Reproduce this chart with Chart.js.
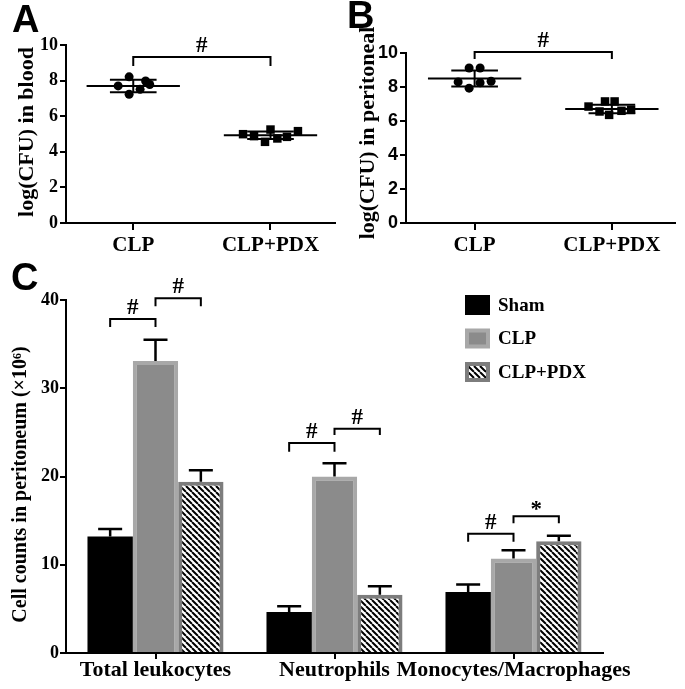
<!DOCTYPE html>
<html>
<head>
<meta charset="utf-8">
<script src="https://cdn.jsdelivr.net/npm/chart.js@4.4.1/dist/chart.umd.min.js"></script>
<style>
  body { margin: 0; background: #fff; }
  #wrap { position: relative; width: 685px; height: 689px; overflow: hidden; }
  #wrap canvas { position: absolute; left: 0; top: 0; }
  .tag { position: absolute; font: bold 38px "Liberation Sans", Arial, sans-serif; line-height: 1; color: #000; }
</style>
</head>
<body>
<div id="wrap">
  <canvas id="chartA" width="685" height="689"></canvas>
  <canvas id="chartB" width="685" height="689"></canvas>
  <canvas id="chartC" width="685" height="689"></canvas>
  <div class="tag" style="left:12px;top:0px">A</div>
  <div class="tag" style="left:347px;top:-4px">B</div>
  <div class="tag" style="left:11px;top:258px">C</div>
</div>
<script>
const groupLabels = ['CLP', 'CLP+PDX'];

// A - log(CFU) in blood (x = jitter around the group)
const bloodClpX = [-0.11, -0.03, -0.03, 0.05, 0.09, 0.12];
const bloodClpY = [7.70, 8.21, 7.23, 7.51, 7.98, 7.78];
const bloodPdxX = [-0.2, -0.12, -0.04, 0, 0.05, 0.12, 0.2];
const bloodPdxY = [4.99, 4.88, 4.56, 5.25, 4.75, 4.84, 5.16];
const bloodMean = [7.70, 4.93];
const bloodSD = [0.35, 0.21];
const bloodSig = [{ from: 1, to: 2, y: 9.33, end: 8.82, text: '#' }];

// B - log(CFU) in peritoneal
const peritClpX = [-0.12, -0.04, -0.04, 0.04, 0.04, 0.12];
const peritClpY = [8.30, 9.12, 7.93, 9.12, 8.25, 8.34];
const peritPdxX = [-0.17, -0.05, 0.02, -0.09, -0.02, 0.07, 0.14];
const peritPdxY = [6.85, 7.15, 7.15, 6.56, 6.36, 6.60, 6.66];
const peritMean = [8.50, 6.70];
const peritSD = [0.47, 0.25];
const peritSig = [{ from: 1, to: 2, y: 10.06, end: 9.65, text: '#' }];

// C - cell counts in peritoneum (x10^6)
const cellTypes = ['Total leukocytes', 'Neutrophils', 'Monocytes/Macrophages'];
const groupNames = ['Sham', 'CLP', 'CLP+PDX'];
const shamCounts = [13.2, 4.65, 6.9];
const shamErr = [0.85, 0.65, 0.85];
const clpCounts = [33.1, 20.0, 10.7];
const clpErr = [2.4, 1.5, 0.95];
const pdxCounts = [19.4, 6.6, 12.65];
const pdxErr = [1.3, 0.95, 0.65];
const cellSig = [
  { cat: 0, from: 0, to: 1, y: 37.85, end: 36.95, text: '#' },
  { cat: 0, from: 1, to: 2, y: 40.2, end: 39.3, text: '#' },
  { cat: 1, from: 0, to: 1, y: 23.8, end: 22.8, text: '#' },
  { cat: 1, from: 1, to: 2, y: 25.4, end: 24.7, text: '#' },
  { cat: 2, from: 0, to: 1, y: 13.5, end: 12.6, text: '#' },
  { cat: 2, from: 1, to: 2, y: 15.5, end: 14.7, text: '*' }
];

const SERIF = '"Liberation Serif", "Times New Roman", serif';
const SANS = '"Liberation Sans", Arial, sans-serif';
const MEAN_HALF = 0.34;
const SD_HALF = 0.17;

// brackets with # / * above them
function sigPlugin(items) {
  return {
    id: 'sigBars',
    afterDatasetsDraw(chart) {
      const ctx = chart.ctx, y = chart.scales.y;
      ctx.save();
      ctx.strokeStyle = '#000';
      ctx.fillStyle = '#000';
      ctx.lineWidth = 2;
      ctx.font = 'bold 23px ' + SERIF;
      ctx.textAlign = 'center';
      ctx.textBaseline = 'alphabetic';
      items.forEach(it => {
        let x1, x2;
        if (it.cat != null) {
          x1 = chart.getDatasetMeta(it.from).data[it.cat].x;
          x2 = chart.getDatasetMeta(it.to).data[it.cat].x;
        } else {
          x1 = chart.scales.x.getPixelForValue(it.from);
          x2 = chart.scales.x.getPixelForValue(it.to);
        }
        const yt = y.getPixelForValue(it.y), ye = y.getPixelForValue(it.end);
        ctx.beginPath();
        ctx.moveTo(x1, ye);
        ctx.lineTo(x1, yt);
        ctx.lineTo(x2, yt);
        ctx.lineTo(x2, ye);
        ctx.stroke();
        ctx.fillText(it.text, (x1 + x2) / 2, yt - (it.text === '*' ? 0 : 5));
      });
      ctx.restore();
    }
  };
}

function sideTitle(text, x, shift, size) {
  return {
    id: 'sideTitle',
    afterDraw(chart) {
      const a = chart.chartArea, ctx = chart.ctx;
      ctx.save();
      ctx.translate(x, (a.top + a.bottom) / 2 + shift);
      ctx.rotate(-Math.PI / 2);
      ctx.font = 'bold ' + size + 'px ' + SERIF;
      ctx.fillStyle = '#000';
      ctx.textAlign = 'center';
      ctx.textBaseline = 'middle';
      ctx.fillText(text, 0, 0);
      ctx.restore();
    }
  };
}

function seg(x1, x2, y1, y2) {
  return {
    data: [{ x: x1, y: y1 }, { x: x2, y: y2 }],
    showLine: true,
    pointRadius: 0,
    borderColor: '#000',
    borderWidth: 2
  };
}

function scatterPanel(id, p) {
  const datasets = [];
  [[p.clpX, p.clpY, 'circle', 4.5], [p.pdxX, p.pdxY, 'rect', 6]].forEach((g, gi) => {
    const cx = gi + 1, m = p.mean[gi], s = p.sd[gi];
    datasets.push(seg(cx - MEAN_HALF, cx + MEAN_HALF, m, m));
    datasets.push(seg(cx - SD_HALF, cx + SD_HALF, m + s, m + s));
    datasets.push(seg(cx - SD_HALF, cx + SD_HALF, m - s, m - s));
    datasets.push(seg(cx, cx, m - s, m + s));
    datasets.push({
      data: g[0].map((dx, i) => ({ x: cx + dx, y: g[1][i] })),
      pointStyle: g[2],
      pointRadius: g[3],
      backgroundColor: '#000',
      borderColor: '#000',
      borderWidth: 0
    });
  });

  return new Chart(document.getElementById(id), {
    type: 'scatter',
    data: { datasets },
    options: {
      responsive: false,
      animation: false,
      layout: { padding: p.pad },
      plugins: { legend: { display: false }, tooltip: { enabled: false } },
      scales: {
        x: {
          type: 'linear',
          min: p.xMin,
          max: p.xMax,
          afterBuildTicks: ax => { ax.ticks = [{ value: 1 }, { value: 2 }]; },
          afterFit: ax => { ax.height = 36; },
          ticks: {
            callback: (v, i) => groupLabels[i],
            color: '#000',
            padding: 3,
            maxRotation: 0,
            minRotation: 0,
            font: { family: SERIF, size: 21, weight: 'bold' }
          },
          grid: { drawOnChartArea: false, tickLength: 7, color: '#000', lineWidth: 2 },
          border: { color: '#000', width: 2 }
        },
        y: {
          min: 0,
          max: 10,
          afterFit: ax => { ax.width = 66; },
          ticks: {
            stepSize: 2,
            color: '#000',
            padding: 2,
            font: { family: p.tickFamily, size: 18, weight: 'bold' }
          },
          grid: { drawOnChartArea: false, tickLength: 6, color: '#000', lineWidth: 2 },
          border: { color: '#000', width: 2 }
        }
      }
    },
    plugins: [sigPlugin(p.sig), sideTitle(p.title, p.titleX, p.titleShift, 22)]
  });
}

scatterPanel('chartA', {
  clpX: bloodClpX, clpY: bloodClpY, pdxX: bloodPdxX, pdxY: bloodPdxY,
  mean: bloodMean, sd: bloodSD, sig: bloodSig,
  xMin: 0.51, xMax: 2.47,
  pad: { left: 0, top: 45, right: 350, bottom: 430 },
  tickFamily: SERIF,
  title: 'log(CFU) in blood', titleX: 27, titleShift: -2
});

scatterPanel('chartB', {
  clpX: peritClpX, clpY: peritClpY, pdxX: peritPdxX, pdxY: peritPdxY,
  mean: peritMean, sd: peritSD, sig: peritSig,
  xMin: 0.5, xMax: 2.46,
  pad: { left: 340, top: 53, right: 10, bottom: 430 },
  tickFamily: SANS,
  title: 'log(CFU) in peritoneal', titleX: 368, titleShift: -5
});

// ---- panel C ----
function hatch() {
  const s = 6;
  const c = document.createElement('canvas');
  c.width = s; c.height = s;
  const p = c.getContext('2d');
  p.fillStyle = '#fff';
  p.fillRect(0, 0, s, s);
  p.strokeStyle = '#000';
  p.lineWidth = 2;
  p.beginPath();
  for (let k = -1; k <= 1; k++) {
    p.moveTo(k * s, 0);
    p.lineTo(k * s + s, s);
  }
  p.stroke();
  return p.createPattern(c, 'repeat');
}

const cellErrors = [shamErr, clpErr, pdxErr];

const errorBars = {
  id: 'errorBars',
  afterDatasetsDraw(chart) {
    const ctx = chart.ctx, y = chart.scales.y;
    ctx.save();
    ctx.strokeStyle = '#000';
    ctx.lineWidth = 2.5;
    chart.data.datasets.forEach((ds, di) => {
      chart.getDatasetMeta(di).data.forEach((bar, i) => {
        const top = y.getPixelForValue(ds.data[i] + cellErrors[di][i]);
        ctx.beginPath();
        ctx.moveTo(bar.x, bar.y);
        ctx.lineTo(bar.x, top);
        ctx.moveTo(bar.x - 12, top);
        ctx.lineTo(bar.x + 12, top);
        ctx.stroke();
      });
    });
    ctx.restore();
  }
};

const legendBox = {
  id: 'legendBox',
  afterDraw(chart) {
    const ctx = chart.ctx;
    ctx.save();
    chart.data.datasets.forEach((ds, i) => {
      const x = 465, y = 295 + i * 33.5, w = 25, h = 20, bw = ds.borderWidth || 0;
      ctx.fillStyle = bw ? ds.borderColor : ds.backgroundColor;
      ctx.fillRect(x, y, w, h);
      ctx.fillStyle = ds.backgroundColor;
      ctx.fillRect(x + bw, y + bw, w - 2 * bw, h - 2 * bw);
      ctx.fillStyle = '#000';
      ctx.font = 'bold 19px ' + SERIF;
      ctx.textBaseline = 'middle';
      ctx.fillText(ds.label, x + 33, y + h / 2 + 1);
    });
    ctx.restore();
  }
};

new Chart(document.getElementById('chartC'), {
  type: 'bar',
  data: {
    labels: cellTypes,
    datasets: [
      { label: groupNames[0], data: shamCounts, backgroundColor: '#000', borderWidth: 0 },
      { label: groupNames[1], data: clpCounts, backgroundColor: '#8b8b8b', borderColor: '#a8a8a8', borderWidth: 4 },
      { label: groupNames[2], data: pdxCounts, backgroundColor: hatch(), borderColor: '#7d7d7d', borderWidth: 4 }
    ]
  },
  options: {
    responsive: false,
    animation: false,
    categoryPercentage: 0.76,
    barPercentage: 1,
    layout: { padding: { left: 0, top: 300, right: 82, bottom: 0 } },
    plugins: { legend: { display: false }, tooltip: { enabled: false } },
    scales: {
      x: {
        afterFit: ax => { ax.height = 36; },
        ticks: {
          color: '#000',
          padding: -2,
          maxRotation: 0,
          minRotation: 0,
          autoSkip: false,
          font: { family: SERIF, size: 22, weight: 'bold' }
        },
        grid: { offset: false, drawOnChartArea: false, tickLength: 6, color: '#000', lineWidth: 2 },
        border: { color: '#000', width: 2 }
      },
      y: {
        min: 0,
        max: 40,
        afterFit: ax => { ax.width = 66; },
        ticks: {
          stepSize: 10,
          color: '#000',
          padding: 1,
          font: { family: SERIF, size: 18, weight: 'bold' }
        },
        grid: { drawOnChartArea: false, tickLength: 6, color: '#000', lineWidth: 2 },
        border: { color: '#000', width: 2 }
      }
    }
  },
  plugins: [errorBars, sigPlugin(cellSig), legendBox, sideTitle('Cell counts in peritoneum (×10⁶)', 21, 8, 20)]
});
</script>
</body>
</html>
